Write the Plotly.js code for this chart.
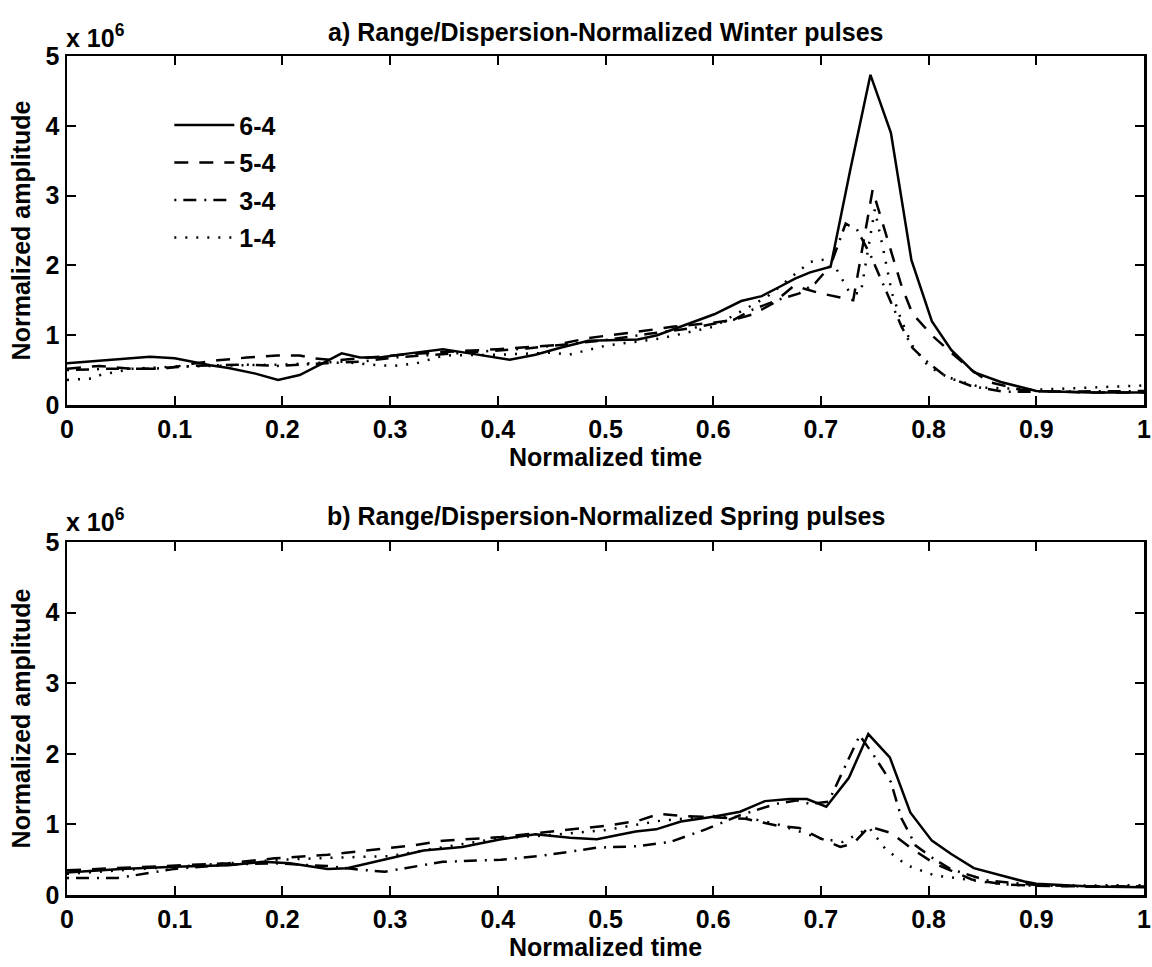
<!DOCTYPE html>
<html>
<head>
<meta charset="utf-8">
<script src="https://cdn.plot.ly/plotly-3.0.1.min.js"></script>
<style>html,body{margin:0;padding:0;background:#fff;}</style>
</head>
<body>
<div id="chart" style="width:1152px;height:967px;"></div>
<script>
// ---- Data (amplitude in units of 10^6) ----
// Panel a) Winter
const winter64X = [0, 0.04, 0.077, 0.10, 0.133, 0.15, 0.175, 0.196, 0.216, 0.235, 0.255, 0.272, 0.29, 0.318, 0.349, 0.374, 0.39, 0.411, 0.435, 0.458, 0.484, 0.51, 0.53, 0.548, 0.573, 0.601, 0.626, 0.645, 0.66, 0.676, 0.69, 0.709, 0.727, 0.746, 0.765, 0.784, 0.803, 0.821, 0.842, 0.867, 0.9, 0.95, 1.0];
const winter64Y = [0.60, 0.65, 0.69, 0.67, 0.57, 0.53, 0.45, 0.36, 0.43, 0.58, 0.74, 0.68, 0.68, 0.74, 0.80, 0.74, 0.70, 0.65, 0.72, 0.82, 0.92, 0.93, 0.94, 1.00, 1.14, 1.30, 1.49, 1.56, 1.68, 1.81, 1.90, 1.98, 3.35, 4.73, 3.90, 2.08, 1.20, 0.79, 0.47, 0.33, 0.20, 0.18, 0.18];

const winter54X = [0, 0.03, 0.06, 0.09, 0.12, 0.14, 0.167, 0.195, 0.216, 0.228, 0.25, 0.28, 0.31, 0.35, 0.4, 0.454, 0.484, 0.53, 0.562, 0.6, 0.619, 0.637, 0.655, 0.675, 0.697, 0.718, 0.73, 0.748, 0.76, 0.775, 0.785, 0.803, 0.821, 0.84, 0.856, 0.885, 0.9, 0.95, 1.0];
const winter54Y = [0.52, 0.56, 0.52, 0.52, 0.60, 0.64, 0.68, 0.71, 0.71, 0.67, 0.64, 0.68, 0.72, 0.76, 0.80, 0.86, 0.96, 1.05, 1.12, 1.18, 1.22, 1.30, 1.45, 1.71, 1.61, 1.54, 1.50, 3.08, 2.46, 1.70, 1.31, 1.00, 0.75, 0.50, 0.33, 0.22, 0.20, 0.18, 0.18];

const winter34X = [0, 0.04, 0.08, 0.117, 0.163, 0.195, 0.241, 0.272, 0.303, 0.334, 0.38, 0.427, 0.458, 0.5, 0.54, 0.58, 0.619, 0.637, 0.661, 0.68, 0.695, 0.709, 0.723, 0.734, 0.746, 0.757, 0.766, 0.775, 0.785, 0.797, 0.815, 0.84, 0.87, 0.9, 0.95, 1.0];
const winter34Y = [0.50, 0.52, 0.52, 0.56, 0.58, 0.56, 0.60, 0.62, 0.68, 0.71, 0.76, 0.81, 0.86, 0.93, 1.02, 1.10, 1.22, 1.37, 1.51, 1.60, 1.75, 2.00, 2.60, 2.50, 2.15, 1.75, 1.45, 1.12, 0.82, 0.64, 0.42, 0.27, 0.19, 0.19, 0.20, 0.20];

const winter14X = [0, 0.024, 0.031, 0.06, 0.1, 0.15, 0.2, 0.256, 0.28, 0.303, 0.325, 0.35, 0.4, 0.45, 0.466, 0.5, 0.55, 0.6, 0.65, 0.69, 0.709, 0.727, 0.737, 0.75, 0.757, 0.766, 0.775, 0.785, 0.8, 0.82, 0.85, 0.9, 0.95, 1.0];
const winter14Y = [0.36, 0.38, 0.43, 0.52, 0.55, 0.56, 0.58, 0.62, 0.58, 0.56, 0.60, 0.71, 0.72, 0.75, 0.72, 0.85, 0.95, 1.12, 1.55, 2.05, 2.10, 1.60, 1.60, 2.80, 2.30, 1.60, 1.20, 0.85, 0.55, 0.38, 0.25, 0.22, 0.25, 0.28];

// Panel b) Spring
const spring64X = [0, 0.05, 0.1, 0.15, 0.182, 0.207, 0.242, 0.26, 0.3, 0.331, 0.367, 0.403, 0.435, 0.467, 0.492, 0.51, 0.528, 0.547, 0.57, 0.6, 0.625, 0.648, 0.671, 0.687, 0.705, 0.726, 0.744, 0.764, 0.783, 0.803, 0.821, 0.842, 0.866, 0.889, 0.9, 0.95, 1.0];
const spring64Y = [0.32, 0.37, 0.40, 0.42, 0.47, 0.45, 0.37, 0.38, 0.52, 0.63, 0.68, 0.79, 0.86, 0.81, 0.79, 0.85, 0.90, 0.93, 1.04, 1.11, 1.18, 1.33, 1.36, 1.36, 1.25, 1.66, 2.28, 1.95, 1.17, 0.77, 0.58, 0.38, 0.28, 0.19, 0.16, 0.12, 0.11];

const spring54X = [0, 0.05, 0.1, 0.15, 0.193, 0.242, 0.278, 0.32, 0.349, 0.403, 0.456, 0.5, 0.53, 0.55, 0.57, 0.6, 0.63, 0.66, 0.68, 0.70, 0.718, 0.73, 0.745, 0.765, 0.785, 0.805, 0.84, 0.87, 0.9, 0.95, 1.0];
const spring54Y = [0.35, 0.38, 0.41, 0.45, 0.52, 0.57, 0.63, 0.70, 0.77, 0.82, 0.91, 0.98, 1.05, 1.15, 1.12, 1.10, 1.08, 0.98, 0.95, 0.80, 0.68, 0.73, 0.97, 0.88, 0.65, 0.45, 0.22, 0.15, 0.13, 0.12, 0.12];

const spring34X = [0, 0.047, 0.1, 0.15, 0.193, 0.242, 0.27, 0.295, 0.314, 0.349, 0.403, 0.438, 0.492, 0.528, 0.56, 0.593, 0.625, 0.658, 0.677, 0.69, 0.707, 0.736, 0.749, 0.765, 0.775, 0.788, 0.805, 0.82, 0.853, 0.9, 0.95, 1.0];
const spring34Y = [0.24, 0.24, 0.37, 0.43, 0.45, 0.41, 0.36, 0.33, 0.38, 0.47, 0.50, 0.55, 0.67, 0.69, 0.75, 0.93, 1.13, 1.29, 1.34, 1.29, 1.32, 2.26, 1.98, 1.60, 1.08, 0.70, 0.51, 0.37, 0.21, 0.14, 0.12, 0.12];

const spring14X = [0, 0.1, 0.2, 0.25, 0.3, 0.35, 0.4, 0.45, 0.5, 0.55, 0.6, 0.63, 0.66, 0.7, 0.72, 0.745, 0.76, 0.78, 0.805, 0.83, 0.87, 0.9, 0.95, 1.0];
const spring14Y = [0.30, 0.40, 0.50, 0.53, 0.55, 0.68, 0.80, 0.85, 0.92, 1.05, 1.12, 1.10, 1.00, 0.80, 0.75, 0.95, 0.65, 0.42, 0.28, 0.23, 0.15, 0.13, 0.13, 0.14];

const seriesNames = ['6-4', '5-4', '3-4', '1-4'];
const xTickVals = [0, 0.1, 0.2, 0.3, 0.4, 0.5, 0.6, 0.7, 0.8, 0.9, 1];
const xTickText = ['0', '0.1', '0.2', '0.3', '0.4', '0.5', '0.6', '0.7', '0.8', '0.9', '1'];
const yTickVals = [0, 1, 2, 3, 4, 5];
const titleA = 'a) Range/Dispersion-Normalized Winter pulses';
const titleB = 'b) Range/Dispersion-Normalized Spring pulses';

// ---- Styles ----
const dashStyles = ['solid', '14px,11px', '2px,7px,13px,8px', '2px,9px'];
const FONT = 'Liberation Sans, Arial, Helvetica, sans-serif';
const FSIZE = 25;

const winter = [[winter64X, winter64Y], [winter54X, winter54Y], [winter34X, winter34Y], [winter14X, winter14Y]];
const spring = [[spring64X, spring64Y], [spring54X, spring54Y], [spring34X, spring34Y], [spring14X, spring14Y]];

const traces = [];
winter.forEach((s, i) => {
  traces.push({
    x: s[0], y: s[1], type: 'scatter', mode: 'lines', name: seriesNames[i],
    xaxis: 'x', yaxis: 'y', legendgroup: 'g' + i, showlegend: true,
    line: {color: 'black', width: 2.5, dash: dashStyles[i]}
  });
});
spring.forEach((s, i) => {
  traces.push({
    x: s[0], y: s[1], type: 'scatter', mode: 'lines', name: seriesNames[i],
    xaxis: 'x2', yaxis: 'y2', legendgroup: 'g' + i, showlegend: false,
    line: {color: 'black', width: 2.5, dash: dashStyles[i]}
  });
});

const txtFont = {family: FONT, size: FSIZE, color: 'black', weight: 'bold'};

function xAxis(anchor) {
  return {
    anchor: anchor, range: [0, 1], tickvals: xTickVals, ticktext: xTickText,
    ticks: 'inside', ticklen: 9, tickwidth: 2, tickcolor: 'black',
    showline: true, linewidth: 2.5, linecolor: 'black', mirror: 'ticks',
    showgrid: false, zeroline: false,
    tickfont: txtFont,
    title: {text: 'Normalized time', standoff: 1, font: txtFont}
  };
}
function yAxis(anchor, domain) {
  return {
    anchor: anchor, domain: domain, range: [0, 5], tickvals: yTickVals,
    ticks: 'inside', ticklen: 9, tickwidth: 2, tickcolor: 'black',
    showline: true, linewidth: 2.5, linecolor: 'black', mirror: 'ticks',
    showgrid: false, zeroline: false,
    tickfont: txtFont,
    title: {text: 'Normalized amplitude', standoff: 8, font: txtFont}
  };
}

const layout = {
  width: 1152, height: 967,
  margin: {l: 67, r: 8, t: 56, b: 72},
  paper_bgcolor: 'white', plot_bgcolor: 'white',
  font: txtFont,
  showlegend: true,
  legend: {x: 0.095, y: 0.945, xanchor: 'left', yanchor: 'top', bgcolor: 'rgba(0,0,0,0)',
           font: txtFont, tracegroupgap: 2, traceorder: 'grouped', itemwidth: 60},
  xaxis: xAxis('y'),
  yaxis: yAxis('x', [0.584, 1]),
  xaxis2: xAxis('y2'),
  yaxis2: yAxis('x2', [0, 0.4207]),
  annotations: [
    {text: titleA, xref: 'paper', yref: 'paper', x: 0.5, y: 1.029, xanchor: 'center', yanchor: 'middle', showarrow: false, font: txtFont},
    {text: titleB, xref: 'paper', yref: 'paper', x: 0.5, y: 0.452, xanchor: 'center', yanchor: 'middle', showarrow: false, font: txtFont},
    {text: 'x 10<sup>6</sup>', xref: 'paper', yref: 'paper', x: -0.003, y: 1.024, xanchor: 'left', yanchor: 'middle', showarrow: false, font: txtFont},
    {text: 'x 10<sup>6</sup>', xref: 'paper', yref: 'paper', x: -0.003, y: 0.447, xanchor: 'left', yanchor: 'middle', showarrow: false, font: txtFont}
  ]
};

Plotly.newPlot('chart', traces, layout, {displayModeBar: false, staticPlot: true});
</script>
</body>
</html>
